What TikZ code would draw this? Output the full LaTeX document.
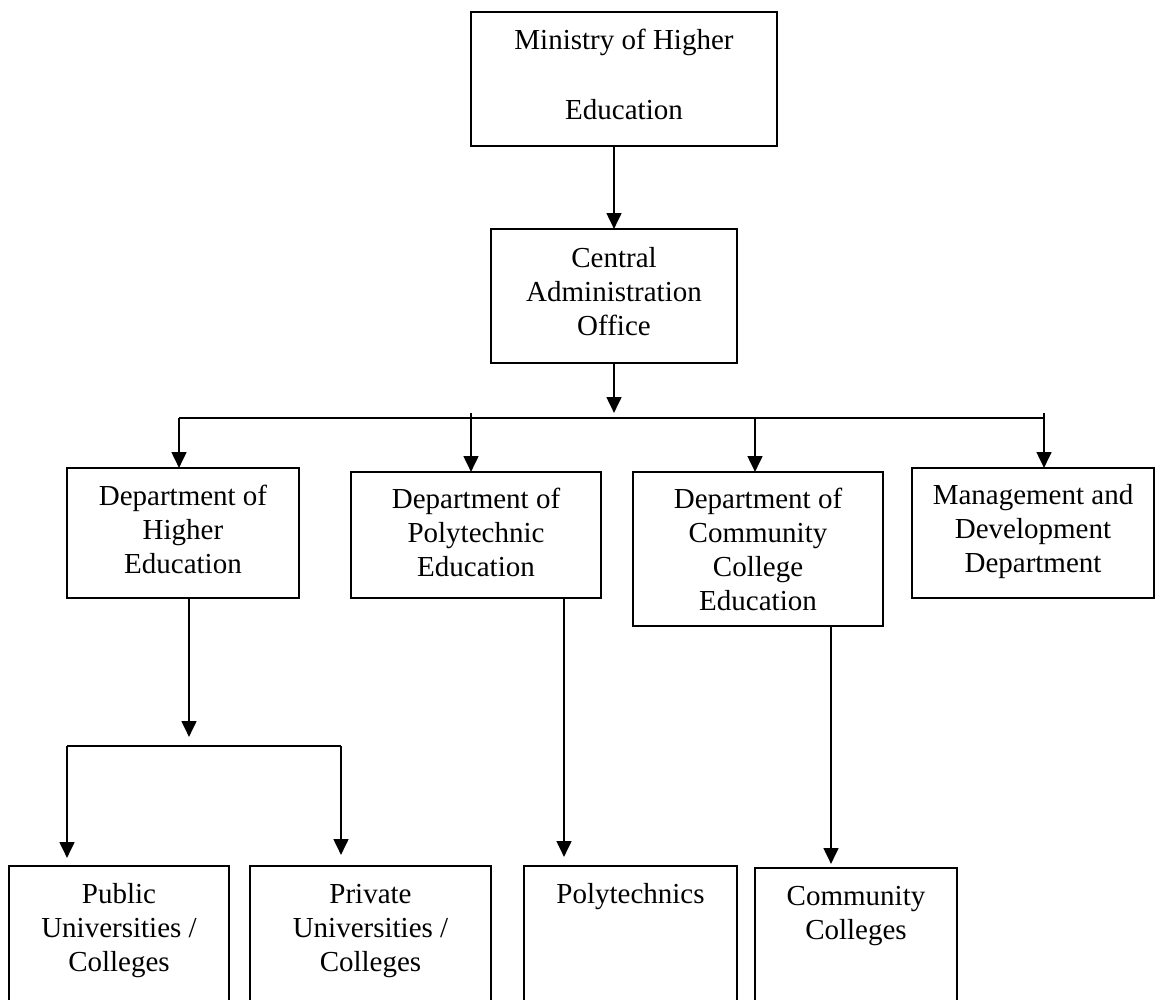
\documentclass[tikz,border=0pt]{standalone}
\usepackage{fontspec}
\setmainfont{Liberation Serif}
\usetikzlibrary{arrows.meta}
% one drawing unit = 0.75pt
\newlength\pxu
\setlength\pxu{0.75pt}
% box body: width, height, first-baseline offset, lines
\newcommand{\cellbody}[4]{\parbox[t][#2\pxu][t]{#1\pxu}{\centering\rule{0pt}{#3\pxu}#4}}
\begin{document}
\begin{tikzpicture}[x=0.75pt,y=-0.75pt,
  unit/.style={draw, line width=1.4pt, inner sep=0pt, outer sep=0pt,
    anchor=north west, font=\fontsize{21.75}{25.5}\selectfont},
  link/.style={line width=2pt},
  arr/.style={link, -{Triangle[length=12pt,width=11pt]}}]
\clip (0,0) rectangle (1155,999);

% boxes
\node[unit] (min)  at (471,12)  {\cellbody{306}{134}{38}{Ministry of Higher\\[36\pxu]Education}};
\node[unit] (cent) at (491,229) {\cellbody{246}{134}{38}{Central\\Administration\\Office}};
\node[unit] (dhe)  at (67,468)  {\cellbody{232}{130}{37}{Department of\\Higher\\Education}};
\node[unit] (dpe)  at (351,472) {\cellbody{250}{126}{36}{Department of\\Polytechnic\\Education}};
\node[unit] (dcc)  at (633,472) {\cellbody{250}{154}{36}{Department of\\Community\\College\\Education}};
\node[unit] (mdd)  at (912,468) {\cellbody{242}{130}{36}{Management and\\Development\\Department}};
\node[unit] (pub)  at (9,866)   {\cellbody{220}{150}{37}{Public\\Universities /\\Colleges}};
\node[unit] (pri)  at (250,866) {\cellbody{241}{150}{37}{Private\\Universities /\\Colleges}};
\node[unit] (poly) at (524,866) {\cellbody{213}{150}{37}{Polytechnics}};
\node[unit] (ccol) at (755,868) {\cellbody{202}{150}{37}{Community\\Colleges}};

% ministry to central office
\draw[arr] (min.south -| cent.north) -- (cent.north);

% central office to the four departments
\coordinate (hub)  at (614,413);
\coordinate (busL) at (179,418);
\coordinate (busR) at (1044,418);
\coordinate (s2)   at (471,413);
\coordinate (s3)   at (755,418);
\coordinate (s4)   at (1044,413);
\draw[arr] (cent.south) -- (hub);
\draw[link] (busL) -- (busR);
\draw[arr] (busL) -- (busL |- dhe.north);
\draw[arr] (s2) -- (s2 |- dpe.north);
\draw[arr] (s3) -- (s3 |- dcc.north);
\draw[arr] (s4) -- (s4 |- mdd.north);

% higher education to universities and colleges
\coordinate (j1)   at (189,737);
\coordinate (subL) at (67,746);
\coordinate (subR) at (341,746);
\coordinate (pa)   at (67,858);
\coordinate (pb)   at (341,855);
\draw[arr] (dhe.south -| j1) -- (j1);
\draw[link] (subL) -- (subR);
\draw[arr] (subL) -- (pa);
\draw[arr] (subR) -- (pb);

% polytechnic and community college branches
\coordinate (pl) at (564,857);
\coordinate (cl) at (831,864);
\draw[arr] (dpe.south -| pl) -- (pl);
\draw[arr] (dcc.south -| cl) -- (cl);
\end{tikzpicture}
\end{document}
